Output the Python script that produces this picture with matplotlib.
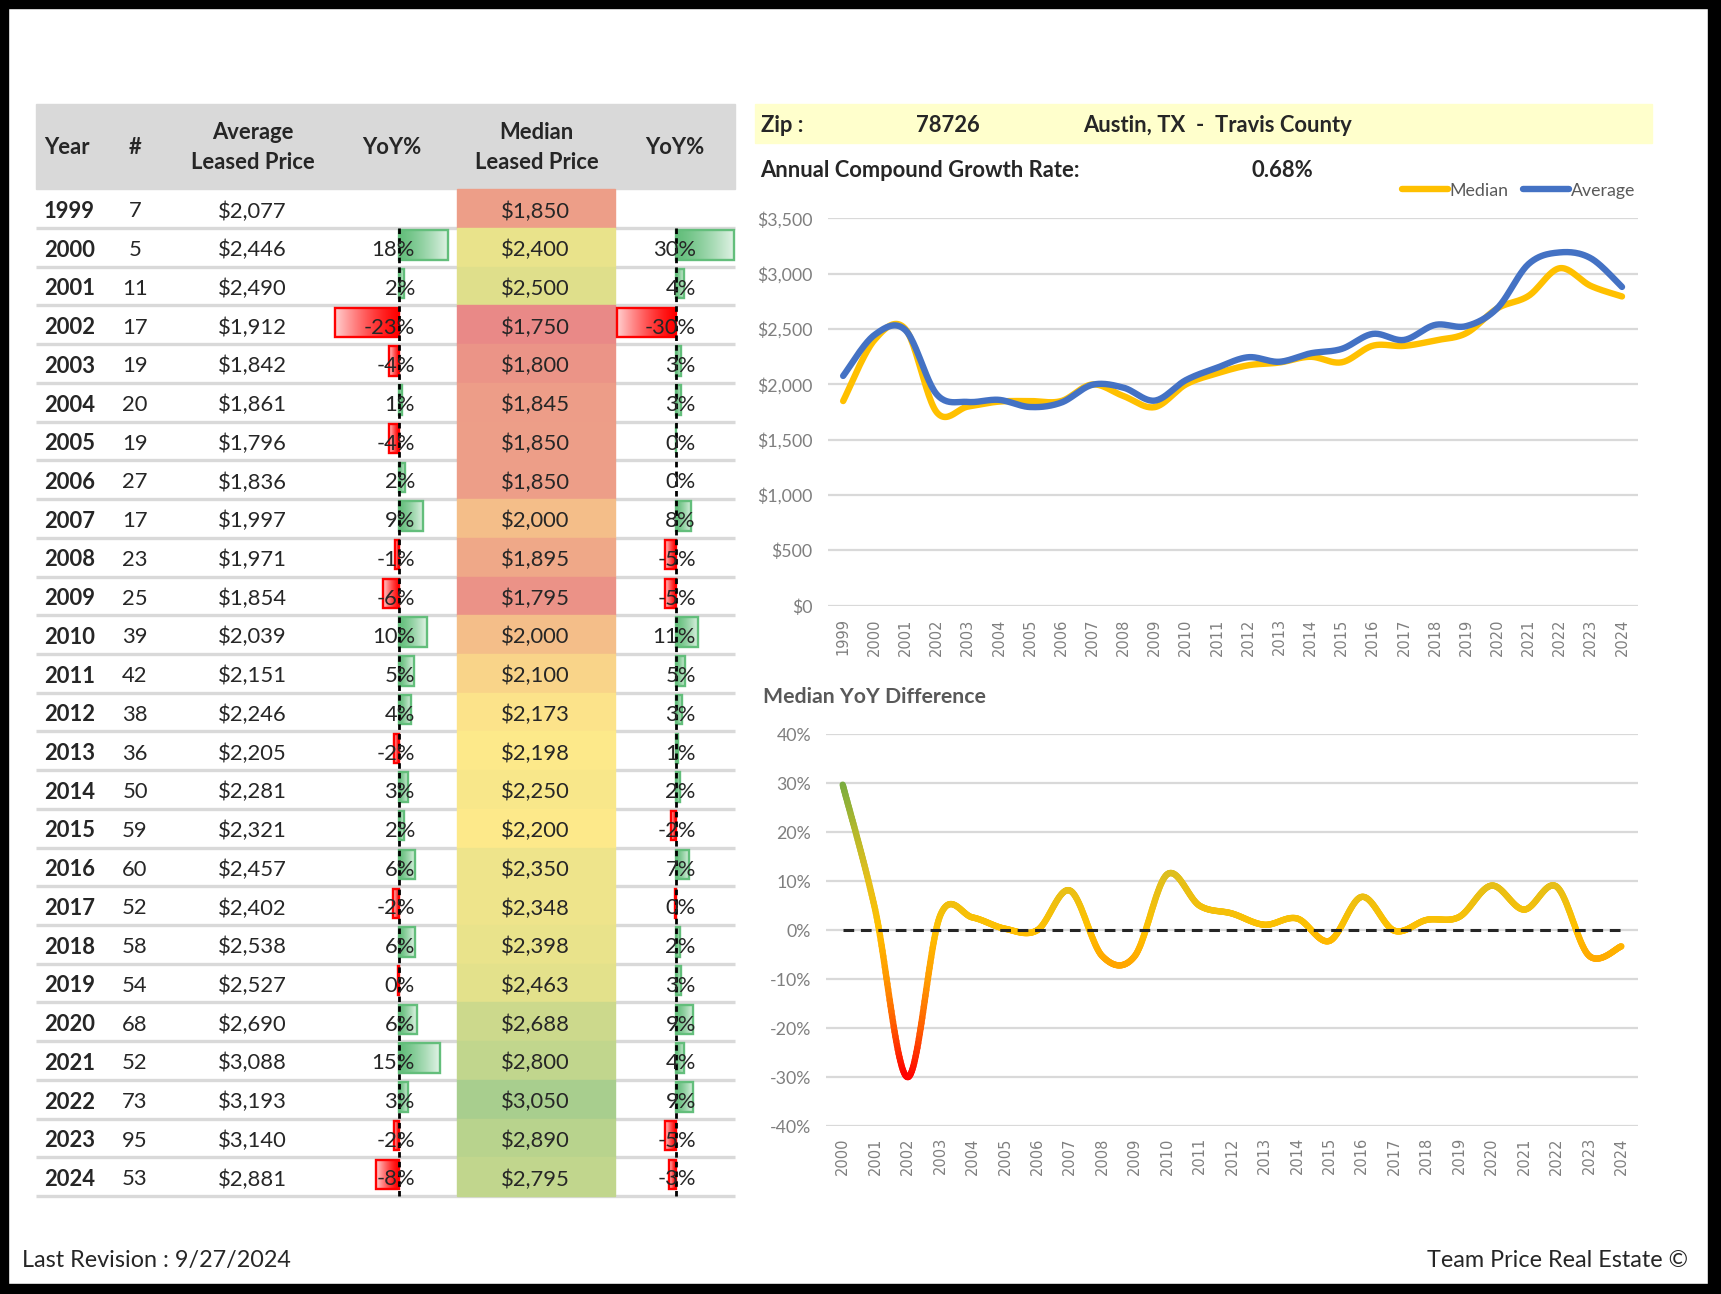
import matplotlib
matplotlib.use("Agg")
import matplotlib.pyplot as plt
import numpy as np
from matplotlib.colors import LinearSegmentedColormap, TwoSlopeNorm, Normalize, to_rgb
from matplotlib.collections import LineCollection
from matplotlib.patches import Rectangle

plt.rcParams['font.family'] = ['Lato', 'DejaVu Sans']

# ---- data (read from the sheet) ----
years = list(range(1999, 2025))
counts = [7, 5, 11, 17, 19, 20, 19, 27, 17, 23, 25, 39, 42, 38, 36, 50, 59, 60, 52, 58, 54, 68, 52, 73, 95, 53]
avg_price = [2077, 2446, 2490, 1912, 1842, 1861, 1796, 1836, 1997, 1971, 1854, 2039, 2151,
             2246, 2205, 2281, 2321, 2457, 2402, 2538, 2527, 2690, 3088, 3193, 3140, 2881]
median_price = [1850, 2400, 2500, 1750, 1800, 1845, 1850, 1850, 2000, 1895, 1795, 2000, 2100,
                2173, 2198, 2250, 2200, 2350, 2348, 2398, 2463, 2688, 2800, 3050, 2890, 2795]
avg_yoy = [None, 17.8, 1.8, -23.2, -3.7, 1.0, -3.6, 2.2, 8.8, -1.3, -5.9, 10.0, 5.4,
           4.4, -1.8, 3.4, 1.8, 5.9, -2.2, 5.7, -0.4, 6.4, 14.8, 3.4, -1.7, -8.2]
median_yoy = [None, 29.7, 4.2, -30.0, 2.9, 2.6, 0.3, 0.0, 8.1, -5.3, -5.3, 11.4, 5.0,
              3.4, 1.1, 2.4, -2.2, 6.8, -0.1, 2.1, 2.7, 9.1, 4.2, 8.9, -5.2, -3.3]
zip_code = "78726"
place = "Austin, TX  -  Travis County"
growth_rate = "0.68%"
revision = "Last Revision : 9/27/2024"
brand = "Team Price Real Estate \u00a9"

# layout is worked out in a 1568 x 1179 grid, scaled to the figure
W, H = 1568, 1179
TXT = '#262626'
GRID = '#D9D9D9'
TICK = '#7F7F7F'
DY = 2.5  # Lato sits a little high compared with the sheet font


def fx(x):
    return x / W


def fy(y):
    return 1 - y / H


def smooth(xs, ys, n=24):
    # Catmull-Rom curve, like the smoothed lines of a spreadsheet chart
    xs = np.asarray(xs, float)
    ys = np.asarray(ys, float)
    px = np.concatenate([[xs[0]], xs, [xs[-1]]])
    py = np.concatenate([[ys[0]], ys, [ys[-1]]])
    t = np.linspace(0, 1, n, endpoint=False)
    outx, outy = [], []
    for i in range(1, len(px) - 2):
        for p, out in ((px, outx), (py, outy)):
            p0, p1, p2, p3 = p[i - 1], p[i], p[i + 1], p[i + 2]
            out.extend(0.5 * (2 * p1 + (-p0 + p2) * t + (2 * p0 - 5 * p1 + 4 * p2 - p3) * t ** 2
                              + (-p0 + 3 * p1 - 3 * p2 + p3) * t ** 3))
    outx.append(xs[-1])
    outy.append(ys[-1])
    return np.array(outx), np.array(outy)


fig = plt.figure(figsize=(17.21, 12.94), dpi=100)
bg = fig.add_axes([0, 0, 1, 1])
bg.set_xlim(0, W)
bg.set_ylim(H, 0)
bg.axis('off')

# black frame
for r in [(0, 0, W, 7), (0, 0, 7, H), (W - 12, 0, 12, H), (0, H - 9, W, 9)]:
    bg.add_patch(Rectangle((r[0], r[1]), r[2], r[3], color='black', zorder=10))

# ---- table ----
tab_left, tab_right = 33, 670
head_top, head_bot = 95, 172.5
row_h = 35.28
fs = 15.8
bg.add_patch(Rectangle((tab_left, head_top), tab_right - tab_left, head_bot - head_top, color=GRID, zorder=1))
hk = dict(fontsize=fs, fontweight='bold', color=TXT, va='center', zorder=5)
bg.text(40, 132 + DY, "Year", ha='left', **hk)
bg.text(123, 132 + DY, "#", ha='center', **hk)
bg.text(230, 118 + DY, "Average", ha='center', **hk)
bg.text(230, 146 + DY, "Leased Price", ha='center', **hk)
bg.text(357, 132 + DY, "YoY%", ha='center', **hk)
bg.text(489, 118 + DY, "Median", ha='center', **hk)
bg.text(489, 146 + DY, "Leased Price", ha='center', **hk)
bg.text(615, 132 + DY, "YoY%", ha='center', **hk)

med_cmap = LinearSegmentedColormap.from_list('med', ['#E98987', '#FDE98A', '#A8CE8E'])
med_norm = TwoSlopeNorm(vmin=min(median_price), vcenter=np.median(median_price), vmax=max(median_price))

avg_axis, avg_scale, avg_lab = 363.5, 2.52, 378
med_axis, med_scale, med_lab = 615.5, 1.78, 634
cell_l, cell_r = 416, 560


def data_bar(x_axis, value, scale, top, bottom):
    color = '#63BE7B' if value >= 0 else '#FF0000'
    end = x_axis + value * scale
    left, right = min(x_axis, end), max(x_axis, end)
    c = np.array(to_rgb(color))
    t = np.linspace(0, 0.85, 60)[:, None] ** 1.3
    grad = c * (1 - t) + t
    if value < 0:
        grad = grad[::-1]
    bg.imshow(grad[None, :, :], extent=(left, right, bottom, top), aspect='auto',
              interpolation='bilinear', zorder=2)
    bg.add_patch(Rectangle((left, top), right - left, bottom - top, fill=False,
                           edgecolor=color, lw=1.7, zorder=3))


rk = dict(fontsize=fs, color=TXT, va='center', zorder=5)
for i, yr in enumerate(years):
    top = head_bot + i * row_h
    bot = top + row_h
    yc = top + row_h / 2 + DY
    bg.hlines(bot, tab_left, tab_right, colors=GRID, lw=2.4, zorder=1)
    bg.add_patch(Rectangle((cell_l, top), cell_r - cell_l, row_h,
                           color=med_cmap(med_norm(median_price[i])), zorder=1.5))
    bg.text(40, yc, str(yr), ha='left', fontweight='bold', **rk)
    bg.text(123, yc, str(counts[i]), ha='center', **rk)
    bg.text(230, yc, f"${avg_price[i]:,}", ha='center', **rk)
    bg.text(488, yc, f"${median_price[i]:,}", ha='center', **rk)
    if avg_yoy[i] is not None:
        if avg_yoy[i] != 0:
            data_bar(avg_axis, avg_yoy[i], avg_scale, top + 2, bot - 6.5)
        bg.text(avg_lab, yc, f"{int(round(avg_yoy[i]))}%", ha='right', **rk)
    if median_yoy[i] is not None:
        if median_yoy[i] != 0:
            data_bar(med_axis, median_yoy[i], med_scale, top + 2, bot - 6.5)
        bg.text(med_lab, yc, f"{int(round(median_yoy[i]))}%", ha='right', **rk)

first_top = head_bot + row_h
last_bot = head_bot + len(years) * row_h
for xa in (avg_axis, med_axis):
    bg.vlines(xa, first_top, last_bot, colors='black', lw=2, linestyles=(0, (2, 1.5)), zorder=4)

# ---- header block of the charts ----
bg.add_patch(Rectangle((688, 95), 1505 - 688, 35, color='#FFFFCC', zorder=1))
zk = dict(fontsize=15.8, fontweight='bold', color=TXT, va='center', ha='left')
bg.text(693, 112 + DY, "Zip :", **zk)
bg.text(835, 112 + DY, zip_code, **zk)
bg.text(987, 112 + DY, place, **zk)
bg.text(693, 153 + DY, "Annual Compound Growth Rate:", **zk)
bg.text(1140, 153 + DY, growth_rate, **zk)

# footer
bg.text(20, 1146 + DY, revision, fontsize=16.8, color=TXT, va='center', ha='left')
bg.text(1538, 1146 + DY, brand, fontsize=16.8, color=TXT, va='center', ha='right')

bg.set_xlim(0, W)
bg.set_ylim(H, 0)


def style_axis(ax, pad_y, pad_x):
    for s in ax.spines.values():
        s.set_visible(False)
    ax.grid(axis='y', color=GRID, lw=1.6)
    ax.set_axisbelow(True)
    ax.tick_params(axis='y', length=0, pad=pad_y, labelsize=12.8, labelcolor=TICK)
    ax.tick_params(axis='x', length=0, pad=pad_x, labelsize=10.5, labelcolor=TICK)
    for lab in ax.get_xticklabels():
        lab.set_fontfamily('DejaVu Sans')
        lab.set_rotation(90)


# ---- price chart ----
ax1 = fig.add_axes([fx(754), fy(552), (1492 - 754) / W, (552 - 199) / H])
ax1.patch.set_alpha(0)
idx = np.arange(len(years))
sx, sy = smooth(idx, median_price)
ax1.plot(sx, sy, color='#FFC000', lw=4.6, solid_capstyle='round', label='Median')
sx, sy = smooth(idx, avg_price)
ax1.plot(sx, sy, color='#4472C4', lw=4.6, solid_capstyle='round', label='Average')
ax1.set_xlim(-0.5, len(years) - 0.5)
ax1.set_ylim(0, 3500)
ax1.set_yticks(np.arange(0, 3501, 500))
ax1.set_yticklabels([f"${v:,}" for v in range(0, 3501, 500)])
ax1.set_xticks(idx)
ax1.set_xticklabels([str(y) for y in years])
style_axis(ax1, 11, 9)
leg = ax1.legend(loc='center right', bbox_to_anchor=(1.008, 1.072), ncol=2, frameon=False,
                 handlelength=2.6, handletextpad=0.1, columnspacing=0.8, borderpad=0,
                 fontsize=12.8, labelcolor='#595959')

# ---- median YoY chart ----
bg.text(695, 633 + DY, "Median YoY Difference", fontsize=15.3, fontweight='bold', color='#595959',
        va='center', ha='left')
ax2 = fig.add_axes([fx(753), fy(1026), (1492 - 753) / W, (1026 - 669) / H])
ax2.patch.set_alpha(0)
yoy_years = years[1:]
yoy_vals = median_yoy[1:]
idx2 = np.arange(len(yoy_years))
sx, sy = smooth(idx2, yoy_vals, n=40)
pts = np.column_stack([sx, sy]).reshape(-1, 1, 2)
segs = np.concatenate([pts[:-1], pts[1:]], axis=1)
yoy_cmap = LinearSegmentedColormap.from_list('yoy', [
    (0.0, '#FF0000'), (1 / 6, '#FF5A00'), (2 / 6, '#FF9A00'), (0.5, '#FFC000'),
    (4 / 6, '#E4BF1A'), (5 / 6, '#B2B82C'), (1.0, '#78AC40')])
lc = LineCollection(segs, cmap=yoy_cmap, norm=Normalize(-30, 30), lw=4.6, capstyle='round')
lc.set_array((sy[:-1] + sy[1:]) / 2)
ax2.add_collection(lc)
ax2.hlines(0, idx2[0], idx2[-1], colors='#262626', lw=2.2, linestyles=(0, (3.5, 2.2)), zorder=3)
ax2.set_xlim(-0.5, len(yoy_years) - 0.5)
ax2.set_ylim(-40, 40)
ax2.set_yticks(np.arange(-40, 41, 10))
ax2.set_yticklabels([f"{v}%" for v in range(-40, 41, 10)])
ax2.set_xticks(idx2)
ax2.set_xticklabels([str(y) for y in yoy_years])
style_axis(ax2, 11, 8)

fig.savefig("out.png", dpi=100)
